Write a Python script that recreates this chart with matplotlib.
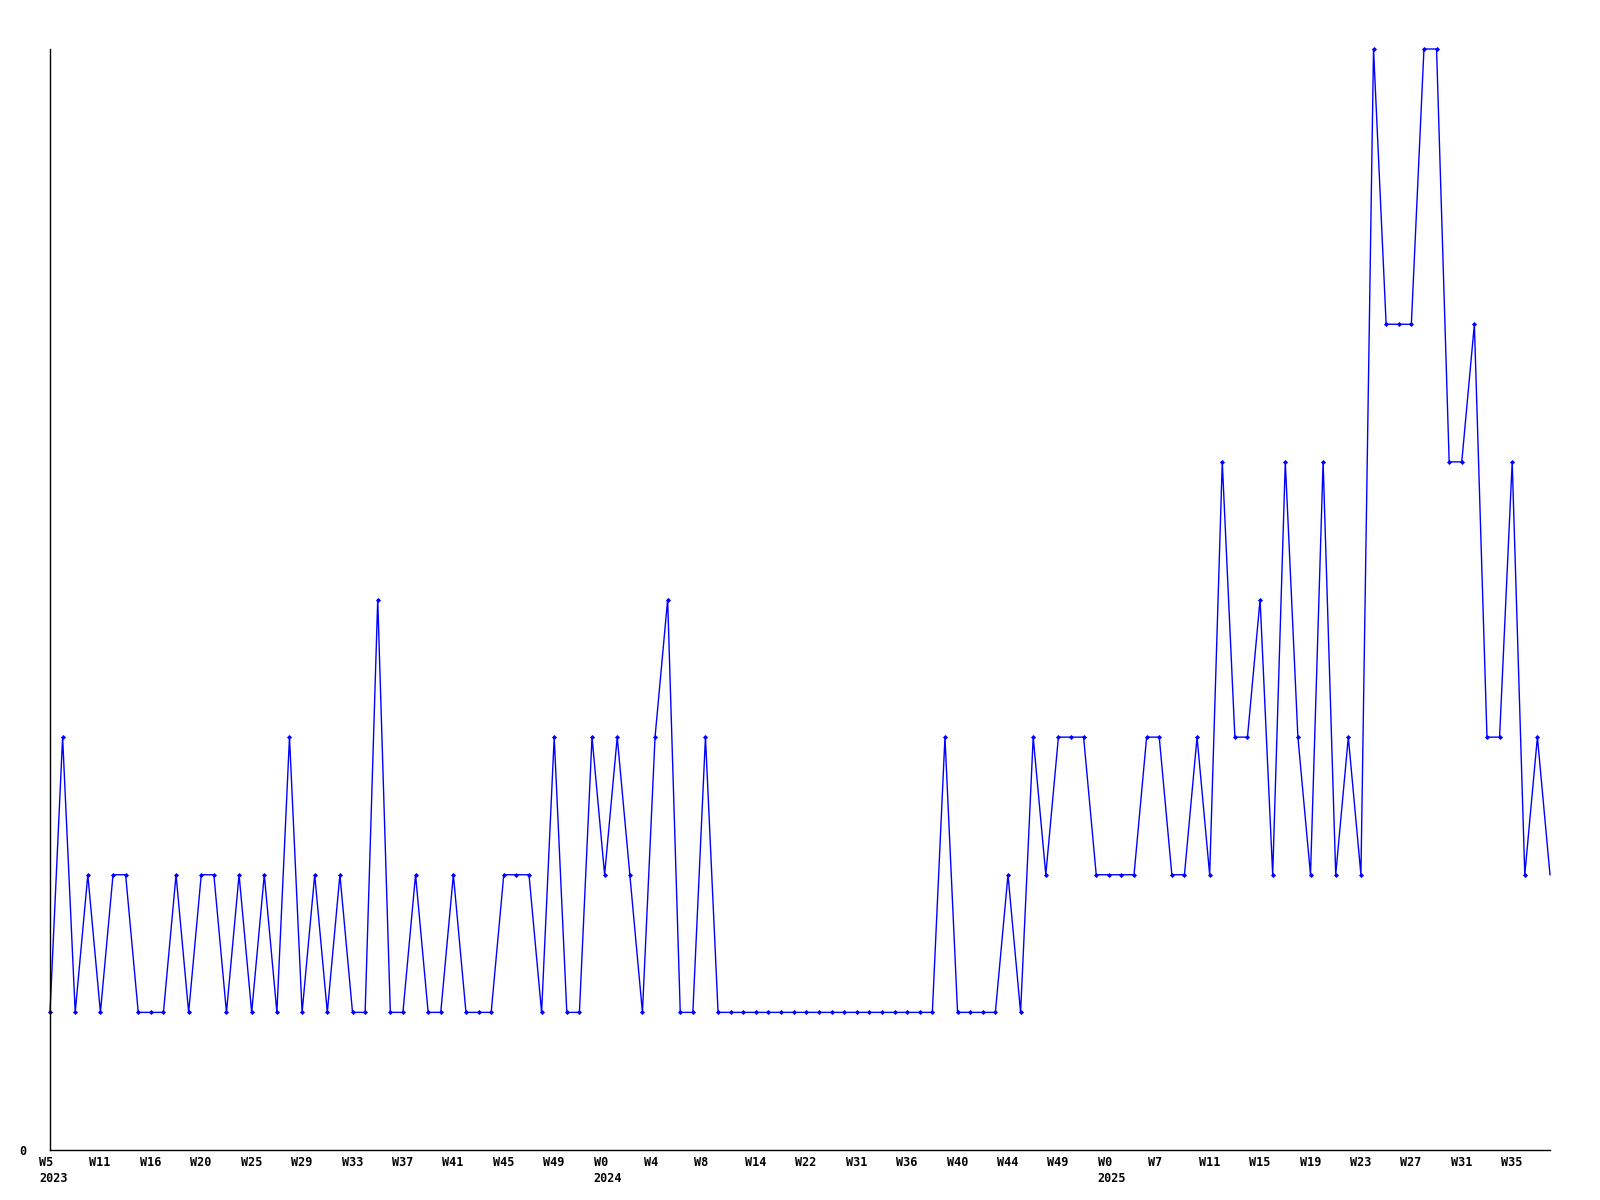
import matplotlib
matplotlib.use("Agg")
import matplotlib.pyplot as plt
import matplotlib.transforms as mtransforms

# weekly counts, one point per week present in the data
counts = [1, 3, 1, 2, 1, 2, 2, 1, 1, 1,
          2, 1, 2, 2, 1, 2, 1, 2, 1, 3,
          1, 2, 1, 2, 1, 1, 4, 1, 1, 2,
          1, 1, 2, 1, 1, 1, 2, 2, 2, 1,
          3, 1, 1, 3, 2, 3, 2, 1, 3, 4,
          1, 1, 3, 1, 1, 1, 1, 1, 1, 1,
          1, 1, 1, 1, 1, 1, 1, 1, 1, 1,
          1, 3, 1, 1, 1, 1, 2, 1, 3, 2,
          3, 3, 3, 2, 2, 2, 2, 3, 3, 2,
          2, 3, 2, 5, 3, 3, 4, 2, 5, 3,
          2, 5, 2, 3, 2, 8, 6, 6, 6, 8,
          8, 5, 5, 6, 3, 3, 5, 2, 3, 2]

# labels shown every 4th point
week_labels = ["W5", "W11", "W16", "W20", "W25", "W29", "W33", "W37", "W41", "W45",
               "W49", "W0", "W4", "W8", "W14", "W22", "W31", "W36", "W40", "W44",
               "W49", "W0", "W7", "W11", "W15", "W19", "W23", "W27", "W31", "W35"]
year_labels = {0: "2023", 44: "2024", 84: "2025"}

x = list(range(len(counts)))
blue = "#0000ff"
font = dict(family="DejaVu Sans Mono", weight="bold", size=8.5)

fig = plt.figure(figsize=(16, 12), dpi=100)
ax = fig.add_axes([50 / 1600, 1 - 1150 / 1200, 1500 / 1600, 1101 / 1200])

ax.plot(x, counts, "-", color=blue, lw=1.0, clip_on=False)
# last week is still open: no marker on it
ax.plot(x[:-1], counts[:-1], "D", color=blue, ms=2.6, mew=0, clip_on=False)

ax.set_xlim(0, len(counts) - 1)
ax.set_ylim(0, max(counts))

for side in ["top", "right"]:
    ax.spines[side].set_visible(False)
for side in ["left", "bottom"]:
    ax.spines[side].set_color("black")
    ax.spines[side].set_linewidth(1.0)

ax.set_xticks([])
ax.set_yticks([0])
ax.set_yticklabels(["0"], **font)
ax.tick_params(axis="y", length=0, pad=17)

# week/year labels, left aligned a little before each point
shift = mtransforms.ScaledTranslation(-11 / 100, 0, fig.dpi_scale_trans)
trans = ax.get_xaxis_transform() + shift
for i, lab in enumerate(week_labels):
    idx = i * 4
    ax.text(idx, -0.0055, lab, transform=trans, ha="left", va="top", **font)
    if idx in year_labels:
        ax.text(idx, -0.02, year_labels[idx], transform=trans, ha="left", va="top", **font)

fig.savefig("out.png", dpi=100, facecolor="white")
